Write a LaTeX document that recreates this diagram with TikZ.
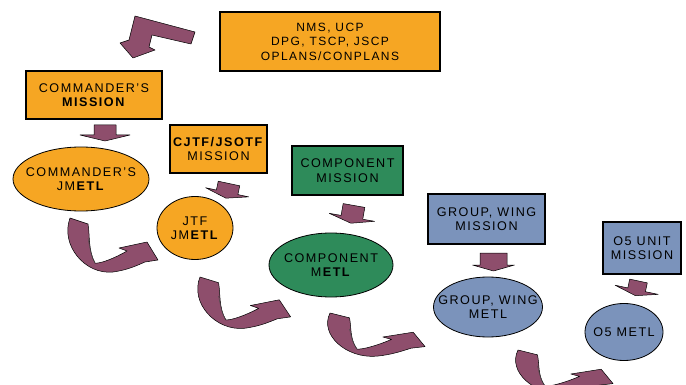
\documentclass[tikz,border=0pt]{standalone}
\usepackage{fontspec}
\setmainfont[LetterSpace=12]{Liberation Sans}
\usetikzlibrary{shapes.geometric}
\definecolor{orng}{RGB}{246,166,35}
\definecolor{grn}{RGB}{46,139,90}
\definecolor{blu}{RGB}{123,147,187}
\definecolor{arw}{RGB}{142,78,108}
\newcommand{\bandarrow}[4]{%
  \begin{scope}[shift={(#1,#2)},xscale=#3,yscale=#4]
    \filldraw[arrowfill] (0,0) .. controls (-10,27) and (15,57) .. (43,54)
      .. controls (58,52) and (68,47) .. (75,44) -- (88,42) -- (77,24) -- (49,30) -- (57,33)
      .. controls (45,40) and (30,46) .. (25,45)
      .. controls (18,32) and (20,17) .. (18,6) -- cycle;
    \draw[black!70, line width=0.4pt] (18,20) .. controls (20,32) and (22,40) .. (25,45);
  \end{scope}}
\begin{document}
\begin{tikzpicture}[x=1pt,y=-1pt,
  font=\fontsize{12.6}{14.5}\selectfont,
  box/.style={draw=black, line width=1.1pt, inner sep=0pt, align=center},
  ell/.style={ellipse, draw=black, line width=0.8pt, inner sep=0pt},
  etext/.style={align=center, inner sep=0pt},
  arrowfill/.style={fill=arw, draw=black, line width=0.5pt, line join=round}]
\useasboundingbox (0,0) rectangle (686,385);
\clip (0,0) rectangle (686,385);

% boxes
\node[box, fill=orng, minimum width=220pt, minimum height=59pt, font=\fontsize{12}{14.5}\selectfont] (nms) at (330,41.5)
  {NMS, UCP\\DPG, TSCP, JSCP\\OPLANS/CONPLANS};
\node[box, fill=orng, minimum width=136pt, minimum height=48pt] (cmdm) at (94,95)
  {COMMANDER'S\\\textbf{MISSION}};
\node[box, fill=orng, minimum width=97pt, minimum height=48pt] (cjtf) at (218.5,149)
  {\textbf{CJTF/JSOTF}\\MISSION};
\node[box, fill=grn, minimum width=111pt, minimum height=49pt] (compm) at (347.5,170.5)
  {COMPONENT\\MISSION};
\node[box, fill=blu, minimum width=117pt, minimum height=50pt] (gwm) at (486.5,219)
  {GROUP, WING\\MISSION};
\node[box, fill=blu, minimum width=78pt, minimum height=52pt] (o5m) at (642,248)
  {O5 UNIT\\MISSION};

% ellipses (shape) and their texts
\node[ell, fill=orng, minimum width=136pt, minimum height=64pt] (cmdj) at (81,179) {};
\node[etext] (cmdjt) at (cmdj) {COMMANDER'S\\JM\textbf{ETL}};
\node[ell, fill=orng, minimum width=76pt, minimum height=63pt] (jtfj) at (195,228) {};
\node[etext] (jtfjt) at (jtfj) {JTF\\JM\textbf{ETL}};
\node[ell, fill=grn, minimum width=124pt, minimum height=64pt] (compj) at (331,265) {};
\node[etext] (compjt) at (compj) {COMPONENT\\M\textbf{ETL}};
\node[ell, fill=blu, minimum width=109pt, minimum height=60pt] (gwj) at (488,307) {};
\node[etext] (gwjt) at (gwj) {GROUP, WING\\METL};
\node[ell, fill=blu, minimum width=78pt, minimum height=57pt] (o5j) at (624,332) {};
\node[etext] (o5jt) at (o5j) {O5 METL};

% bent arrow at top
\filldraw[arrowfill] (135,16) -- (195,32) -- (191,44) -- (152,35) -- (149,47) -- (155,50)
  -- (133,58) -- (120,43) -- (129,40) -- cycle;

% short down arrows
\begin{scope}[shift={(105,125)}]
  \filldraw[arrowfill] (-11,0) -- (11,0) -- (11,10) -- (25,10) -- (0,16) -- (-25,10) -- (-11,10) -- cycle;
\end{scope}
\begin{scope}[shift={(229,183.5)},rotate=-12]
  \filldraw[arrowfill] (-11,0) -- (11,0) -- (11,9) -- (22,9) -- (0,15) -- (-22,9) -- (-11,9) -- cycle;
\end{scope}
\begin{scope}[shift={(354,205.5)},rotate=-10]
  \filldraw[arrowfill] (-11,0) -- (11,0) -- (11,12) -- (23,12) -- (0,18) -- (-23,12) -- (-11,12) -- cycle;
\end{scope}
\begin{scope}[shift={(493.5,253)}]
  \filldraw[arrowfill] (-13.5,0) -- (13.5,0) -- (13.5,12) -- (21,12) -- (0,18) -- (-21,12) -- (-13.5,12) -- cycle;
\end{scope}
\begin{scope}[shift={(638.5,281)},rotate=-12]
  \filldraw[arrowfill] (-9,0) -- (9,0) -- (9,9) -- (22,9) -- (0,15) -- (-22,9) -- (-9,9) -- cycle;
\end{scope}

% curved band arrows
\bandarrow{70}{218}{1}{1}
\bandarrow{200}{277}{1.03}{0.95}
\bandarrow{330}{313}{1.08}{0.8}
\bandarrow{518}{350}{1.08}{0.8}
\end{tikzpicture}
\end{document}
